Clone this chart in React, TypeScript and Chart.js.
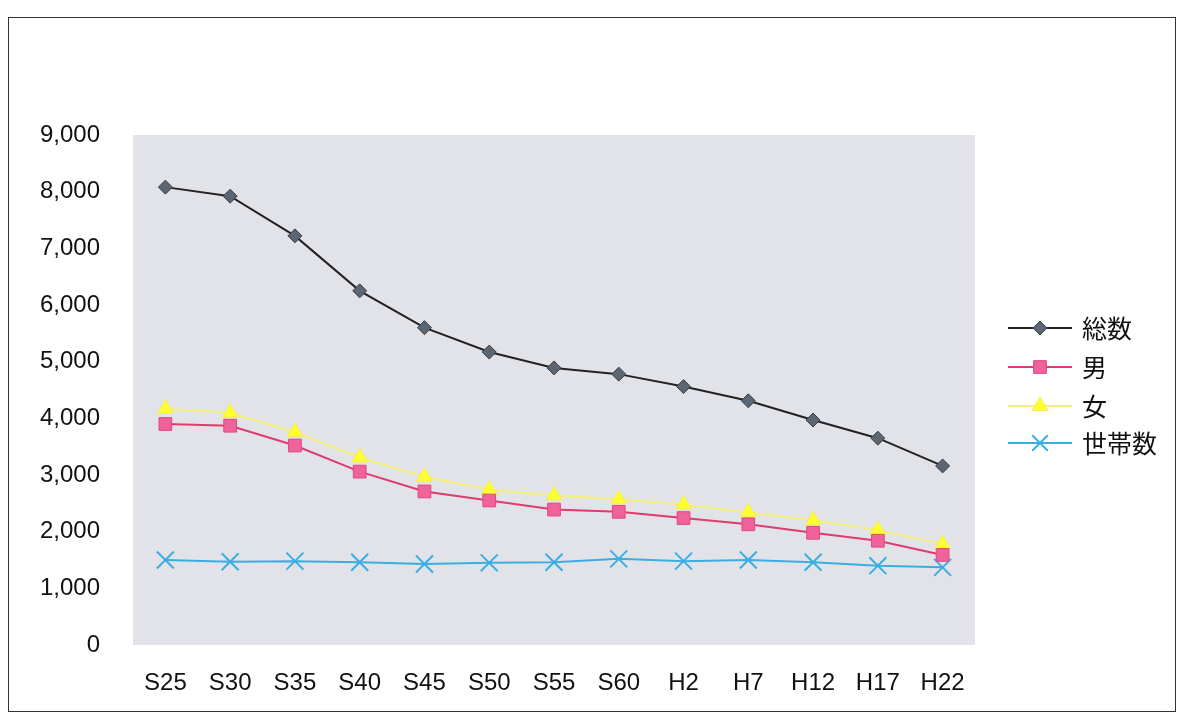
import React, { useEffect, useRef } from "react";
import { Chart, registerables } from "chart.js";

Chart.register(...registerables);

const categories = ["S25", "S30", "S35", "S40", "S45", "S50", "S55", "S60", "H2", "H7", "H12", "H17", "H22"];
const totalValues = [8080, 7920, 7220, 6250, 5600, 5170, 4890, 4780, 4560, 4310, 3970, 3650, 3160];
const maleValues = [3900, 3870, 3520, 3060, 2710, 2550, 2390, 2350, 2240, 2130, 1980, 1840, 1590];
const femaleValues = [4170, 4100, 3760, 3310, 2970, 2740, 2640, 2570, 2480, 2340, 2200, 2030, 1780];
const householdValues = [1500, 1470, 1480, 1460, 1430, 1450, 1460, 1520, 1480, 1500, 1460, 1400, 1370];
const seriesNames = ["総数", "男", "女", "世帯数"];
const yTicks = [0, 1000, 2000, 3000, 4000, 5000, 6000, 7000, 8000, 9000];

const bgPlugin = {
  id: "plotBg",
  beforeDraw(chart: any) {
    const { ctx, chartArea } = chart;
    ctx.save();
    ctx.fillStyle = "#e2e3e9";
    ctx.fillRect(chartArea.left, chartArea.top, chartArea.right - chartArea.left, chartArea.bottom - chartArea.top);
    ctx.restore();
  },
};

function marker(ctx: CanvasRenderingContext2D, style: string, x: number, y: number, r: number) {
  ctx.beginPath();
  if (style === "rectRot") {
    ctx.moveTo(x, y - r);
    ctx.lineTo(x + r, y);
    ctx.lineTo(x, y + r);
    ctx.lineTo(x - r, y);
    ctx.closePath();
    ctx.fill();
    ctx.stroke();
  } else if (style === "rect") {
    const s = r * Math.SQRT1_2;
    ctx.rect(x - s, y - s, 2 * s, 2 * s);
    ctx.fill();
    ctx.stroke();
  } else if (style === "triangle") {
    ctx.moveTo(x, y - r);
    ctx.lineTo(x + r * 0.866, y + r * 0.5);
    ctx.lineTo(x - r * 0.866, y + r * 0.5);
    ctx.closePath();
    ctx.fill();
    ctx.stroke();
  } else if (style === "crossRot") {
    const s = r * Math.SQRT1_2;
    ctx.moveTo(x - s, y - s);
    ctx.lineTo(x + s, y + s);
    ctx.moveTo(x + s, y - s);
    ctx.lineTo(x - s, y + s);
    ctx.stroke();
  }
}

const legendPlugin = {
  id: "lineLegend",
  afterDraw(chart: any) {
    const { ctx } = chart;
    const ys = [328, 367, 406, 443];
    ctx.save();
    chart.data.datasets.forEach((ds: any, i: number) => {
      const y = ys[i];
      ctx.strokeStyle = ds.borderColor;
      ctx.lineWidth = 2;
      ctx.beginPath();
      ctx.moveTo(1008, y);
      ctx.lineTo(1072, y);
      ctx.stroke();
      ctx.fillStyle = ds.pointBackgroundColor;
      ctx.strokeStyle = ds.pointBorderColor;
      ctx.lineWidth = ds.pointBorderWidth;
      marker(ctx, ds.pointStyle, 1040, y, ds.legendRadius);
      ctx.fillStyle = "#111";
      ctx.font = "25px 'Noto Sans CJK JP', sans-serif";
      ctx.textBaseline = "middle";
      ctx.textAlign = "left";
      ctx.fillText(ds.label, 1082, y);
    });
    ctx.restore();
  },
};

export default function App() {
  const ref = useRef<HTMLCanvasElement>(null);
  useEffect(() => {
    if (!ref.current) return;
    const chart = new Chart(ref.current, {
      type: "line",
      data: {
        labels: categories,
        datasets: [
          {
            label: seriesNames[0],
            data: totalValues,
            borderColor: "#222222",
            borderWidth: 2,
            pointStyle: "rectRot",
            pointRadius: 7,
            pointBackgroundColor: "#5c6672",
            pointBorderColor: "#3a3f46",
            pointBorderWidth: 1,
            legendRadius: 7,
          } as any,
          {
            label: seriesNames[1],
            data: maleValues,
            borderColor: "#e03a6e",
            borderWidth: 2,
            pointStyle: "rect",
            pointRadius: 9,
            pointBackgroundColor: "#f0629a",
            pointBorderColor: "#e0487e",
            pointBorderWidth: 1,
            legendRadius: 9,
          } as any,
          {
            label: seriesNames[2],
            data: femaleValues,
            borderColor: "#f4ef7a",
            borderWidth: 2,
            pointStyle: "triangle",
            pointRadius: 9,
            pointBackgroundColor: "#ffff30",
            pointBorderColor: "#f2ee50",
            pointBorderWidth: 1,
            legendRadius: 9,
          } as any,
          {
            label: seriesNames[3],
            data: householdValues,
            borderColor: "#3aaee2",
            borderWidth: 2,
            pointStyle: "crossRot",
            pointRadius: 12,
            pointBackgroundColor: "#3aaee2",
            pointBorderColor: "#3aaee2",
            pointBorderWidth: 2,
            legendRadius: 11,
          } as any,
        ],
      },
      options: {
        animation: false,
        responsive: false,
        layout: { padding: { left: 0, right: 205, top: 135, bottom: 0 } },
        plugins: { legend: { display: false }, tooltip: { enabled: false } },
        scales: {
          x: {
            offset: true,
            grid: { display: false, drawTicks: false },
            border: { display: false },
            ticks: {
              color: "#111",
              padding: 24,
              maxRotation: 0,
              font: { size: 24, family: "'Liberation Sans', Arial, sans-serif" },
            },
            afterFit(scale: any) {
              scale.height = 77;
            },
          },
          y: {
            min: 0,
            max: 9000,
            grid: { display: false, drawTicks: false },
            border: { display: false },
            afterBuildTicks(scale: any) {
              scale.ticks = yTicks.map((v) => ({ value: v }));
            },
            ticks: {
              color: "#111",
              padding: 33,
              font: { size: 24, family: "'Liberation Sans', Arial, sans-serif" },
              callback: (v: any) => Number(v).toLocaleString("en-US"),
            },
            afterFit(scale: any) {
              scale.width = 133;
            },
          },
        },
      },
      plugins: [bgPlugin, legendPlugin],
    });
    return () => chart.destroy();
  }, []);
  return (
    <div style={{ position: "absolute", left: 0, top: 0, width: 1180, height: 722, background: "#fff", overflow: "hidden" }}>
      <canvas ref={ref} width={1180} height={722} style={{ position: "absolute", left: 0, top: 0, width: 1180, height: 722 }} />
      <div
        style={{
          position: "absolute",
          left: 8,
          top: 17,
          width: 1166,
          height: 693,
          border: "1.5px solid #333",
          pointerEvents: "none",
        }}
      />
    </div>
  );
}
